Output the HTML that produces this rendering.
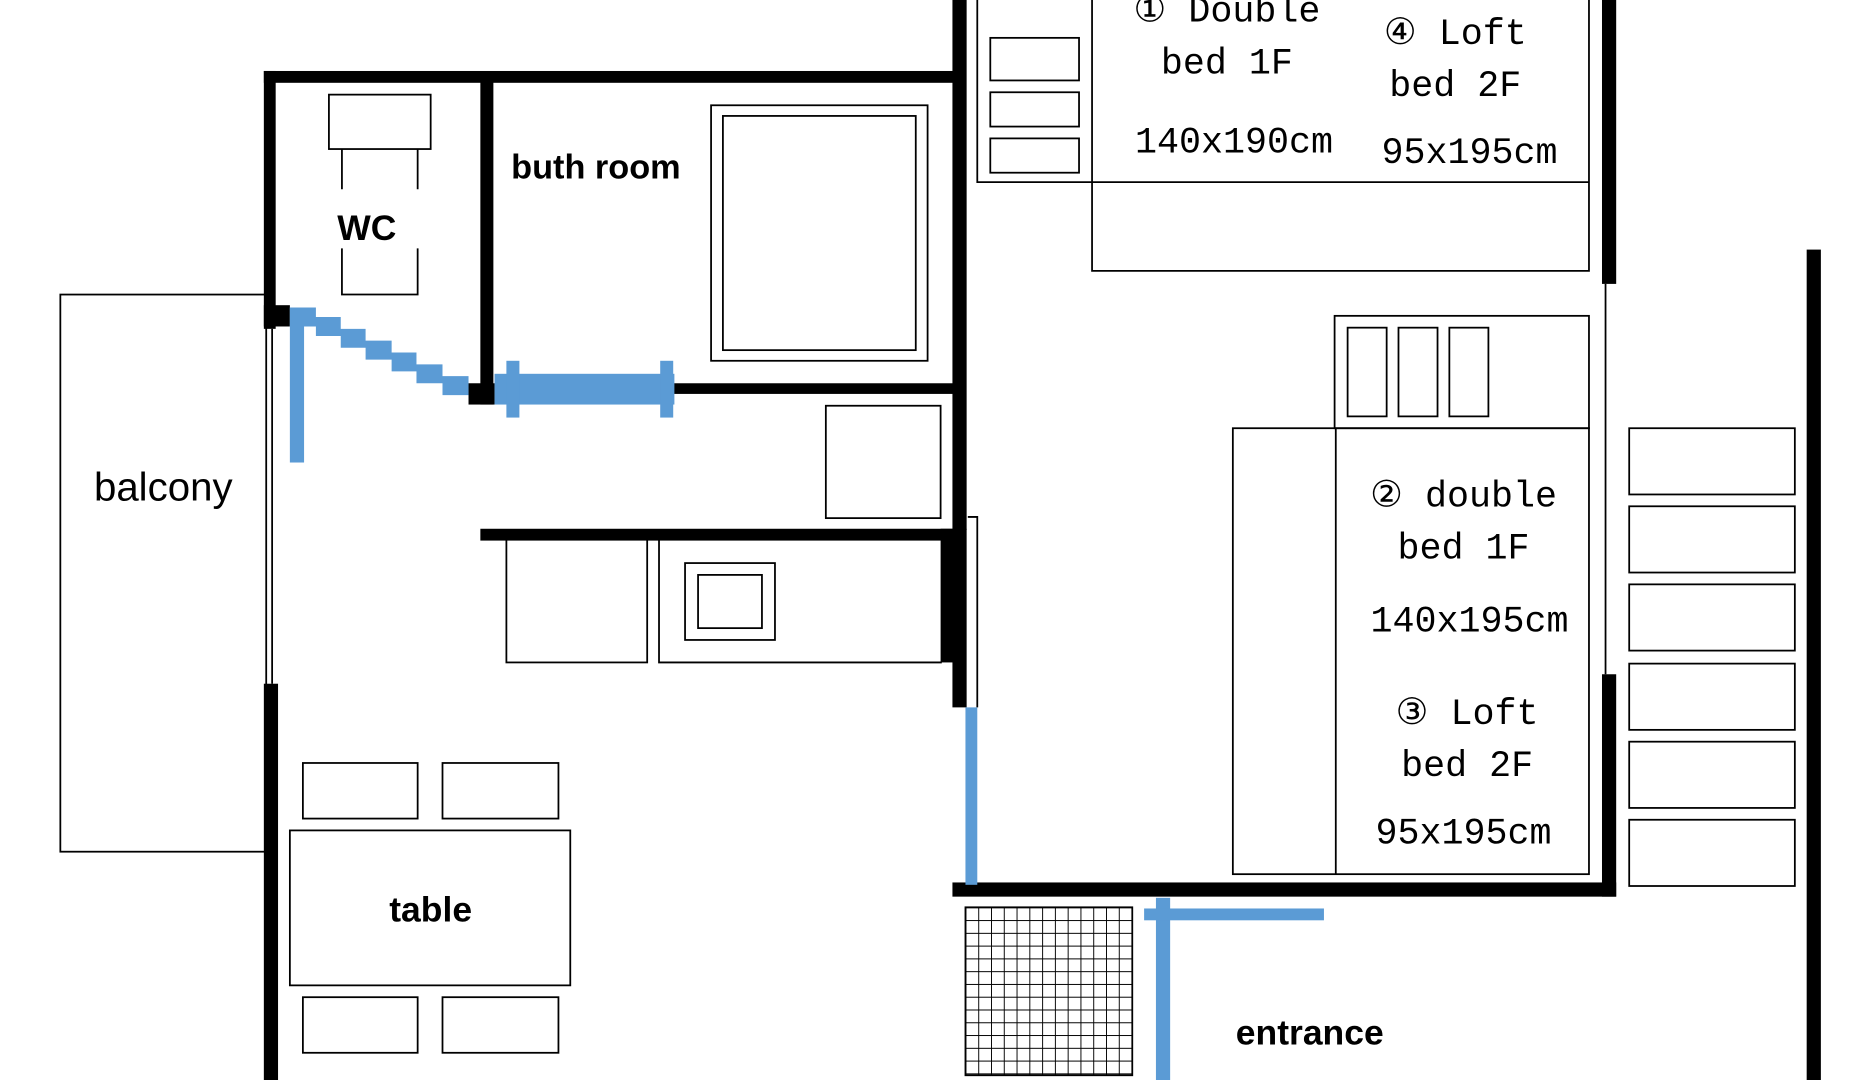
<!DOCTYPE html>
<html><head><meta charset="utf-8"><style>html,body{margin:0;padding:0;background:#fff}svg{display:block}</style></head><body>
<svg width="1854" height="1080" viewBox="0 0 1567 913" preserveAspectRatio="none" xmlns="http://www.w3.org/2000/svg">
<defs>
<pattern id="g" x="816" y="767" width="10.8" height="10.8" patternUnits="userSpaceOnUse">
<path d="M0 0H10.8M0 0V10.8" stroke="#000" stroke-width="1.6" fill="none"/>
</pattern>
</defs>
<rect width="1567" height="913" fill="#fff"/>
<g fill="none" stroke="#000" stroke-width="1.5">
<rect x="51" y="249" width="174" height="471"/>
<rect x="278" y="80" width="86" height="46"/>
<path d="M289 126V160M289 210V249H353V210M353 160V126"/>
<rect x="601" y="89" width="183" height="216"/>
<rect x="611" y="98" width="163" height="198"/>
<rect x="698" y="343" width="97" height="95"/>
<rect x="428" y="456" width="119" height="104"/>
<path d="M557 456V560H796"/>
<rect x="579" y="476" width="76" height="65"/>
<rect x="590" y="486" width="54" height="45"/>
<rect x="256" y="645" width="97" height="47"/>
<rect x="374" y="645" width="98" height="47"/>
<rect x="245" y="702" width="237" height="131"/>
<rect x="256" y="843" width="97" height="47"/>
<rect x="374" y="843" width="98" height="47"/>
<path d="M826 0V154H1343"/>
<path d="M923 0V229H1343V0"/>
<rect x="837" y="32" width="75" height="36"/>
<rect x="837" y="78" width="75" height="29"/>
<rect x="837" y="117" width="75" height="29"/>
<rect x="1128" y="267" width="215" height="95"/>
<rect x="1139" y="277" width="33" height="75"/>
<rect x="1182" y="277" width="33" height="75"/>
<rect x="1225" y="277" width="33" height="75"/>
<rect x="1042" y="362" width="301" height="377"/>
<path d="M1129 362V739"/>
<rect x="1377" y="362" width="140" height="56"/>
<rect x="1377" y="428" width="140" height="56"/>
<rect x="1377" y="494" width="140" height="56"/>
<rect x="1377" y="561" width="140" height="56"/>
<rect x="1377" y="627" width="140" height="56"/>
<rect x="1377" y="693" width="140" height="56"/>
<path d="M230 278V578"/>
<path d="M818 437H826V598"/>
<path d="M1357 240V570"/>
</g>
<rect x="816" y="767" width="141" height="142" fill="url(#g)" stroke="#000" stroke-width="1.5"/>
<g fill="#000">
<rect x="223" y="60" width="590" height="10"/>
<rect x="223" y="60" width="10" height="218"/>
<rect x="223" y="258" width="22" height="18"/>
<rect x="223" y="578" width="12" height="335"/>
<rect x="406" y="66" width="11" height="276"/>
<rect x="396" y="324" width="22" height="18"/>
<rect x="566" y="324" width="244" height="9"/>
<rect x="805" y="0" width="12" height="448"/>
<rect x="406" y="447" width="404" height="10"/>
<rect x="795" y="447" width="15" height="113"/>
<rect x="805" y="447" width="12" height="151"/>
<rect x="805" y="746" width="561" height="12"/>
<rect x="1354" y="0" width="12" height="240"/>
<rect x="1354" y="570" width="12" height="188"/>
<rect x="1527" y="211" width="12" height="702"/>
</g>
<g fill="#5b9bd5">
<rect x="245" y="260" width="12" height="131"/>
<polygon points="245,260 267,260 267,268 288,268 288,278 309,278 309,288 331,288 331,298 352,298 352,308 374,308 374,318 396,318 396,334 374,334 374,324 352,324 352,314 331,314 331,304 309,304 309,294 288,294 288,284 267,284 267,276 245,276"/>
<rect x="418" y="316" width="152" height="26"/>
<rect x="428" y="305" width="11" height="48"/>
<rect x="558" y="305" width="11" height="48"/>
<rect x="816" y="598" width="10" height="150"/>
<rect x="977" y="759" width="12" height="154"/>
<rect x="967" y="768" width="152" height="10"/>
</g>
<g font-family="Liberation Sans, sans-serif" fill="#000">
<text x="138" y="423" font-size="34" text-anchor="middle">balcony</text>
<text x="310" y="203" font-size="30" font-weight="bold" text-anchor="middle">WC</text>
<text x="432" y="151" font-size="29" font-weight="bold">buth room</text>
<text x="364" y="779" font-size="30" font-weight="bold" text-anchor="middle">table</text>
<text x="1107" y="883" font-size="30" font-weight="bold" text-anchor="middle">entrance</text>
</g>
<g font-family="Liberation Mono, DejaVu Sans Mono, monospace" fill="#000" font-size="31" text-anchor="middle">
<text x="1037" y="18">① Double</text>
<text x="1037" y="62">bed 1F</text>
<text x="1043" y="129">140x190cm</text>
<text x="1230" y="37">④ Loft</text>
<text x="1230" y="81">bed 2F</text>
<text x="1242" y="138">95x195cm</text>
<text x="1237" y="428">② double</text>
<text x="1237" y="472">bed 1F</text>
<text x="1242" y="534">140x195cm</text>
<text x="1240" y="612">③ Loft</text>
<text x="1240" y="656">bed 2F</text>
<text x="1237" y="713">95x195cm</text>
</g>
</svg>
</body></html>
